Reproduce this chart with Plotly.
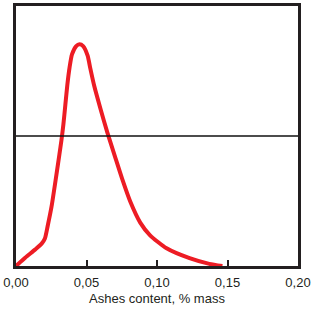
import plotly.graph_objects as go

ash = [0.0, 0.0065, 0.0135, 0.0182, 0.0205, 0.0224, 0.0252, 0.028, 0.0308, 0.0322, 0.0336,
       0.035, 0.0364, 0.038, 0.0397, 0.0427, 0.045, 0.0476, 0.0508, 0.0527, 0.0555, 0.0601,
       0.0648, 0.0706, 0.0753, 0.0811, 0.0881, 0.0951, 0.1068, 0.1231, 0.1371, 0.1464]
dens = [0.0, 0.032, 0.063, 0.086, 0.106, 0.152, 0.228, 0.327, 0.430, 0.483, 0.544,
        0.620, 0.696, 0.764, 0.814, 0.846, 0.853, 0.846, 0.809, 0.760, 0.692, 0.601,
        0.513, 0.414, 0.335, 0.247, 0.167, 0.118, 0.068, 0.030, 0.008, 0.0]
ref_level = 0.5
tick_vals = [0.0, 0.05, 0.10, 0.15, 0.20]
tick_text = ["0,00", "0,05", "0,10", "0,15", "0,20"]

dark = "#231f20"
fig = go.Figure()
fig.add_hline(y=ref_level, line=dict(color="#111111", width=1.3))
fig.add_trace(go.Scatter(x=ash, y=dens, mode="lines",
                         line=dict(color="#ed1c24", width=4, shape="spline", smoothing=0.6),
                         hoverinfo="skip"))
fig.update_layout(
    width=314, height=309, margin=dict(l=14, r=14, t=3, b=43),
    paper_bgcolor="white", plot_bgcolor="white", showlegend=False,
    font=dict(family="Liberation Sans, Arial", size=13, color=dark),
    xaxis=dict(range=[0, 0.2], tickvals=tick_vals, ticktext=tick_text,
               ticks="inside", ticklen=6, tickwidth=2, tickcolor=dark,
               showline=True, linecolor=dark, linewidth=2.5, mirror=True,
               showgrid=False, zeroline=False, ticklabelstandoff=3,
               title=dict(text="Ashes content, % mass", standoff=5, font=dict(size=13))),
    yaxis=dict(range=[0, 1], showticklabels=False, ticks="",
               showline=True, linecolor=dark, linewidth=2.5, mirror=True,
               showgrid=False, zeroline=False),
)
fig.write_html("out.html")
